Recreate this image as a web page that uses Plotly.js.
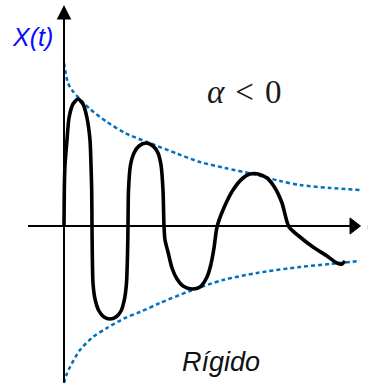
<!DOCTYPE html>
<html>
<head>
<meta charset="utf-8">
<script src="https://cdn.plot.ly/plotly-3.0.1.min.js"></script>
<style>
  html, body { margin: 0; padding: 0; background: #ffffff; }
  #chart { width: 368px; height: 384px; }
</style>
</head>
<body>
<div id="chart"></div>
<script>
// Damped oscillation X(t), time along the horizontal axis
var tCurve = [0, 0.03, 0.1, 0.3, 0.5, 0.9, 1.4, 1.9, 2.3, 2.6, 2.7, 2.77, 2.8,
  2.83, 2.9, 3.1, 3.5, 4.0, 4.6, 5.2, 5.7, 6.05, 6.25, 6.35, 6.4,
  6.45, 6.65, 7.0, 7.5, 8.2, 8.9, 9.4, 9.7, 9.9, 10.0,
  10.1, 10.4, 10.8, 11.3, 11.9, 12.8, 13.6, 14.3, 14.7, 15.0, 15.3,
  15.9, 16.9, 17.9, 18.6, 19.4, 20.3, 21.1, 21.8, 22.5,
  23.6, 24.9, 26.3, 27.3, 27.8, 28.1];
var xCurve = [0, 3.6, 6.1, 8.6, 10.8, 12.2, 12.7, 12.2, 10.8, 8.6, 6.1, 3.6, 0,
  -2.9, -5.7, -7.3, -8.5, -9.1, -9.3, -9.1, -8.5, -7.3, -5.7, -2.9, 0,
  3.6, 6.1, 7.3, 8.0, 8.3, 8.0, 7.3, 6.1, 3.6, 0,
  -1.4, -2.6, -4.2, -5.3, -6.0, -6.3, -6.1, -5.1, -3.8, -2.2, -0.1,
  1.6, 3.6, 4.8, 5.2, 5.2, 4.8, 3.8, 2.3, -0.1,
  -1.1, -2.1, -3.0, -3.7, -3.8, -3.5];

// Upper and lower decay envelopes
var tUpper = [0, 0.4, 0.8, 1.3, 2.6, 4.3, 6.1, 8.3, 11.4, 13.6, 16.1, 18.9, 21.6, 23.6, 26.6, 29.6];
var xUpper = [16.3, 14.3, 13.6, 13.0, 11.7, 10.4, 9.3, 8.4, 7.2, 6.4, 5.8, 5.2, 4.5, 4.1, 3.8, 3.6];
var tLower = [0, 0.2, 0.6, 1.6, 2.9, 4.3, 6.1, 7.6, 9.6, 12.6, 15.9, 19.3, 23.6, 26.6, 29.6];
var xLower = [-15.7, -15.0, -14.1, -12.4, -11.1, -10.2, -9.2, -8.6, -7.7, -6.5, -5.4, -4.7, -4.1, -3.8, -3.5];

// Axis extents: tail and arrowhead of each axis
var hAxisT = [-3.6, 28.95];
var vAxisX = [-15.8, 22.1];

var envColor = 'rgb(0,112,192)';
var envLine = { color: envColor, width: 2.5, dash: '4px,3px', shape: 'spline', smoothing: 0.8 };

var traces = [
  // horizontal axis line ending in a triangular head
  { x: hAxisT, y: [0, 0], mode: 'lines+markers', cliponaxis: false, hoverinfo: 'skip',
    line: { color: '#000000', width: 2 },
    marker: { symbol: ['circle', 'triangle-right'], size: [0, 14], color: '#000000', opacity: 1,
              line: { width: 1, color: '#000000' } } },
  { x: tUpper, y: xUpper, mode: 'lines', line: envLine, hoverinfo: 'skip' },
  { x: tLower, y: xLower, mode: 'lines', line: envLine, hoverinfo: 'skip' },
  { x: tCurve, y: xCurve, mode: 'lines',
    line: { color: '#000000', width: 3.6, shape: 'spline', smoothing: 0.7 }, hoverinfo: 'skip' }
];

var hiddenAxis = { visible: false, showgrid: false, zeroline: false, fixedrange: true };

var W = 368, H = 384;
var narrow = 'Liberation Sans Narrow, Arial Narrow, Liberation Sans, sans-serif';

var layout = {
  width: W,
  height: H,
  margin: { l: 0, r: 0, t: 0, b: 0, pad: 0 },
  paper_bgcolor: '#ffffff',
  plot_bgcolor: '#ffffff',
  showlegend: false,
  xaxis: Object.assign({ range: [-6.4, 30.4] }, hiddenAxis),
  yaxis: Object.assign({ range: [-15.8, 22.6] }, hiddenAxis),
  annotations: [
    // vertical axis with its arrow
    { x: 0, y: vAxisX[1], ax: 0, ay: vAxisX[0], xref: 'x', yref: 'y', axref: 'x', ayref: 'y',
      text: '', showarrow: true, arrowhead: 2, arrowsize: 1.45, arrowwidth: 2, arrowcolor: '#000000' },
    { x: 0.087, y: 0.904, xref: 'paper', yref: 'paper', xanchor: 'center', yanchor: 'middle',
      text: '<i>X(t)</i>', showarrow: false,
      font: { family: narrow, size: 25, color: '#0a0aff' } },
    { x: 365 / W, y: 1 - 224 / H, xref: 'paper', yref: 'paper', xanchor: 'left', yanchor: 'middle',
      text: '<i>ωt</i>', showarrow: false,
      font: { family: narrow, size: 25, color: '#0a0aff' } },
    { x: 244 / W, y: 1 - 92 / H, xref: 'paper', yref: 'paper', xanchor: 'center', yanchor: 'middle',
      text: '<i>α</i>\u2004<\u20040', showarrow: false,
      font: { family: 'Liberation Serif, DejaVu Serif, serif', size: 33, color: '#1a1a1a' } },
    { x: 221 / W, y: 1 - 362 / H, xref: 'paper', yref: 'paper', xanchor: 'center', yanchor: 'middle',
      text: '<i>Rígido</i>', showarrow: false,
      font: { family: narrow, size: 27, color: '#111111' } }
  ]
};

Plotly.newPlot('chart', traces, layout, { displayModeBar: false, staticPlot: true });
</script>
</body>
</html>
